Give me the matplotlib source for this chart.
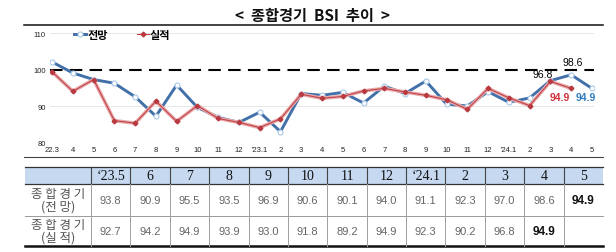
import matplotlib
matplotlib.use("Agg")
import matplotlib.pyplot as plt
from matplotlib.patches import Rectangle

# ---------------- data ----------------
months = ["22.3", "4", "5", "6", "7", "8", "9", "10", "11", "12", "'23.1", "2", "3", "4",
          "5", "6", "7", "8", "9", "10", "11", "12", "'24.1", "2", "3", "4", "5"]
forecast = [102.1, 99.1, 97.3, 96.3, 92.6, 87.3, 95.8, 89.7, 87.0, 85.6, 88.4, 83.1, 93.5, 93.0,
            93.8, 90.9, 95.5, 93.5, 96.9, 90.6, 90.1, 94.0, 91.1, 92.3, 97.0, 98.6, 94.9]
actual = [99.4, 94.1, 97.3, 86.1, 85.4, 91.4, 85.9, 90.2, 86.7, 85.6, 84.2, 86.6, 93.3, 92.2,
          92.7, 94.2, 94.9, 93.9, 93.0, 91.8, 89.2, 94.9, 92.3, 90.2, 96.8, 94.9]
table_cols = ["\u201823.5", "6", "7", "8", "9", "10", "11", "12", "\u201824.1", "2", "3", "4", "5"]
row_labels = ["종 합 경 기\n(전 망)", "종 합 경 기\n(실 적)"]
series_names = ["전망", "실적"]
title = "<  종합경기  BSI  추이  >"

W, H = 616, 253
fig = plt.figure(figsize=(W / 100, H / 100), dpi=100)

KR = ["Noto Sans CJK KR", "DejaVu Sans"]
SANS = ["Liberation Sans", "DejaVu Sans"]
SERIF = ["Liberation Serif", "DejaVu Serif"]

# overlay axes in pixel coordinates
ov = fig.add_axes([0, 0, 1, 1])
ov.set_xlim(0, W)
ov.set_ylim(H, 0)
ov.axis("off")

ov.text(312, 16, title, ha="center", va="center", fontsize=11, fontweight="bold",
        family=KR, color="#111111")
ov.plot([24, 603], [26, 26], color="#111111", lw=1.1)
ov.plot([24, 603], [158, 158], color="#444444", lw=0.8)

# ---------------- chart ----------------
ax = fig.add_axes([50 / W, 1 - 144 / H, 544 / W, 110 / H])
ax.patch.set_alpha(0)
x = list(range(len(months)))
ax.set_xlim(-0.1, len(months) - 1 + 0.1)
ax.set_ylim(80, 110)
for s in ax.spines.values():
    s.set_visible(False)
for yv in (90, 110):
    ax.axhline(yv, color="#e3e3e3", lw=0.6, zorder=0)
ax.axhline(100, color="black", lw=1.5, dashes=(6, 3.5), zorder=1)

blue = "#4270a8"
lb, = ax.plot(x, forecast, color=blue, lw=2.1, marker="o", ms=3.6, mfc="white",
              mec="#a9c8e8", mew=0.8, zorder=3)
ax.plot(x[:len(actual)], actual, color="#e9aaaa", lw=2.6, zorder=4, solid_joinstyle="round")
lr, = ax.plot(x[:len(actual)], actual, color="#c0424a", lw=0.8, marker="D", ms=2.4,
              mfc="#b83a40", mec="#b83a40", zorder=5)

ax.set_xticks(x)
ax.set_xticklabels(months, fontsize=5.5, family=SANS, color="#222222")
ax.set_yticks([80, 90, 100, 110])
ax.set_yticklabels(["80", "90", "100", "110"], fontsize=5.5, family=SANS, color="#222222")
ax.tick_params(axis="x", length=0, pad=2.5)
ax.tick_params(axis="y", length=0, pad=3)

# annotations
n = len(forecast)
ax.annotate(f"{forecast[n - 2]:.1f}", (n - 2, forecast[n - 2]), xytext=(2, 12.5),
            textcoords="offset pixels", ha="center", va="center", fontsize=7.5,
            family=SANS, color="black")
na = len(actual)
ax.annotate(f"{actual[na - 2]:.1f}", (na - 2, actual[na - 2]), xytext=(2, 7.5),
            textcoords="offset pixels", ha="right", va="center", fontsize=7.5,
            family=SANS, color="black")
ax.annotate(f"{actual[na - 1]:.1f}", (na - 1, actual[na - 1]), xytext=(-1, -8.5),
            textcoords="offset pixels", ha="right", va="center", fontsize=7.5,
            family=SANS, color="#d0303a", fontweight="bold")
ax.annotate(f"{forecast[n - 1]:.1f}", (n - 1, forecast[n - 1]), xytext=(-6.5, -8.5),
            textcoords="offset pixels", ha="center", va="center", fontsize=7.5,
            family=SANS, color="#2e7cc0", fontweight="bold")

leg = ax.legend([lb, lr], series_names, loc="center left",
                bbox_to_anchor=(74 / W, 1 - 35 / H), bbox_transform=fig.transFigure,
                ncol=2, frameon=False, handlelength=1.1, handletextpad=0.1,
                columnspacing=2.6, borderpad=0, borderaxespad=0,
                prop={"family": KR, "size": 8, "weight": "bold"})

# ---------------- table ----------------
x0, x1 = 25, 91
cw = (603 - x1) / len(table_cols)
edges = [x0, x1] + [x1 + cw * (i + 1) for i in range(len(table_cols))]
ytop, yh, yr1, yr2 = 168, 185, 217, 247

ov.add_patch(Rectangle((x0, ytop), 603 - x0, yh - ytop, facecolor="#c6d9f1",
                       edgecolor="none", zorder=1))
ov.plot([x0, 603], [ytop, ytop], color="#333333", lw=0.9, zorder=2)
ov.plot([x0, 603], [yh, yh], color="#333333", lw=0.9, zorder=2)
ov.plot([x0, 603], [yr1, yr1], color="#9a9a9a", lw=0.7, zorder=2)
ov.plot([x0, 603], [yr2, yr2], color="#111111", lw=1.8, zorder=2)
for e in edges[1:-1]:
    ov.plot([e, e], [ytop, yh], color="#444444", lw=0.8, zorder=2)
    ov.plot([e, e], [yh, yr2], color="#a0a0a0", lw=0.7, zorder=2)

for j, lab in enumerate(table_cols):
    cx = (edges[j + 1] + edges[j + 2]) / 2
    ov.text(cx, (ytop + yh) / 2 + 0.5, lab, ha="center", va="center", fontsize=10,
            family=SERIF, color="#111111", zorder=3)

for r, lab in enumerate(row_labels):
    yc = (yh + yr1) / 2 if r == 0 else (yr1 + yr2) / 2
    ov.text((x0 + x1) / 2, yc, lab, ha="center", va="center", fontsize=9,
            family=KR, color="#555555", linespacing=0.95, zorder=3)

f_tab = forecast[-len(table_cols):]
a_tab = actual[-(len(table_cols) - 1):]
for row, vals in enumerate([f_tab, a_tab]):
    yc = (yh + yr1) / 2 if row == 0 else (yr1 + yr2) / 2
    for j, v in enumerate(vals):
        cx = (edges[j + 1] + edges[j + 2]) / 2
        last = j == len(vals) - 1
        ov.text(cx, yc, f"{v:.1f}", ha="center", va="center",
                fontsize=8.5 if last else 8, family=SANS,
                fontweight="bold" if last else "normal",
                color="#111111" if last else "#666666", zorder=3)

fig.savefig("out.png", dpi=100)
